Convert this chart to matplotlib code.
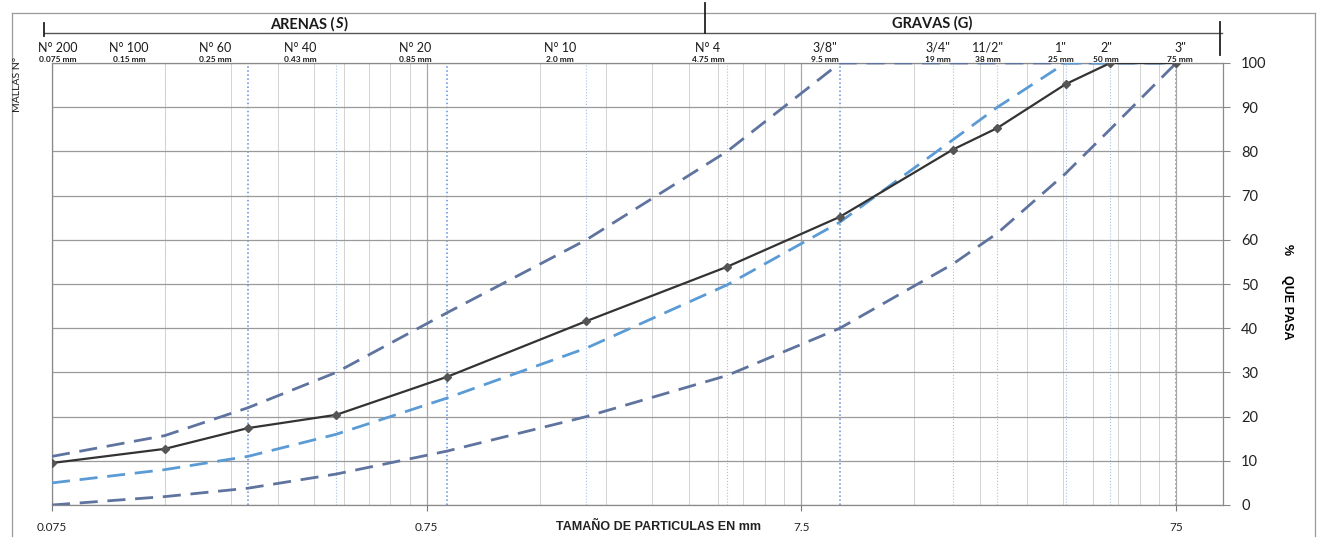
import numpy as np
import matplotlib
matplotlib.use("Agg")
import matplotlib.pyplot as plt
from matplotlib.lines import Line2D
from matplotlib.ticker import FixedLocator, NullFormatter

# --- data: sieve openings (mm) and % passing ---
sizes = [0.075, 0.15, 0.25, 0.43, 0.85, 2.0, 4.75, 9.5, 19, 25, 38, 50, 75]
muestra = [9.5, 12.7, 17.4, 20.4, 29.0, 41.6, 53.9, 65.2, 80.4, 85.3, 95.2, 100, 100]
lim_sup = [11, 15.7, 22, 30, 43.5, 60, 80, 100, 100, 100, 100, 100, 100]
lim_med = [5, 8, 11, 16, 24.2, 35.5, 49.8, 64, 82.6, 90, 100, 100, 100]
lim_inf = [0, 1.9, 3.8, 7, 12.2, 20, 29.3, 40, 54.5, 61.5, 75, 85, 100]

# header labels (sieve names and openings)
mallas = ["N° 200", "N° 100", "N° 60", "N° 40", "N° 20", "N° 10", "N° 4",
          '3/8"', '3/4"', '11/2"', '1"', '2"', '3"']
aberturas = ["0.075 mm", "0.15 mm", "0.25 mm", "0.43 mm", "0.85 mm", "2.0 mm",
             "4.75 mm", "9.5 mm", "19 mm", "38 mm", "25 mm", "50 mm", "75 mm"]
header_px = [58, 129, 215, 300, 415, 560, 708, 825, 938, 988, 1061, 1106, 1180]

x_ticks = [0.075, 0.75, 7.5, 75]
x_ticklabels = ["0.075", "0.75", "7.5", "75"]
y_ticks = list(range(0, 101, 10))

W, H = 1323, 539
fig = plt.figure(figsize=(W / 100, H / 100), dpi=100)
ax = fig.add_axes([52 / W, 1 - 505 / H, (1223 - 52) / W, (505 - 63) / H])

ax.set_xscale("log")
ax.set_xlim(0.075, 100)
ax.set_ylim(0, 100)

# grid: minor lines at 2..9 x 0.075 x 10^n, major at decades of 0.075
minor = [m * 0.075 * 10 ** d for d in range(4) for m in range(2, 10)]
minor = [v for v in minor if v < 100]
ax.xaxis.set_major_locator(FixedLocator(x_ticks))
ax.xaxis.set_minor_locator(FixedLocator(minor))
ax.xaxis.set_minor_formatter(NullFormatter())
ax.set_xticklabels(x_ticklabels, fontsize=8.5, family="Lato", color="#222222")
ax.tick_params(axis="x", which="major", length=4, color="#777777", pad=8)
ax.tick_params(axis="x", which="minor", length=0)
ax.grid(True, which="major", axis="x", color="#a8a8a8", lw=0.9)
ax.grid(True, which="minor", axis="x", color="#d2d2d2", lw=0.7)

ax.yaxis.tick_right()
ax.set_yticks(y_ticks)
ax.set_yticklabels([str(v) for v in y_ticks], fontsize=10.5, family="Lato",
                   color="#222222")
ax.tick_params(axis="y", length=5, color="#888888", pad=8)
ax.grid(True, which="major", axis="y", color="#9a9a9a", lw=0.9)

for s in ax.spines.values():
    s.set_color("#8a8a8a")
    s.set_linewidth(0.9)

# dotted sieve lines
for v in sizes:
    strong = v in (0.25, 0.85, 9.5, 75)
    ax.axvline(v, color="#5b8fd6" if strong else "#a9c0e0", ls=":",
               lw=1.1 if strong else 0.8, zorder=1)

ax.plot(sizes, lim_sup, color="#5f739f", lw=2.0, dashes=(6.5, 3.5), zorder=3)
ax.plot(sizes, lim_inf, color="#5f739f", lw=2.0, dashes=(6.5, 3.5), zorder=3)
ax.plot(sizes, lim_med, color="#5b9bd5", lw=2.0, dashes=(6.5, 3.5), zorder=3)
ax.plot(sizes, muestra, color="#333333", lw=1.6, marker="D", ms=4.5,
        mfc="#555555", mec="#555555", zorder=4)

# header labels
for name, ab, px in zip(mallas, aberturas, header_px):
    fig.text(px / W, 1 - 48 / H, name, ha="center", va="center",
             fontsize=9, family="Lato", color="#1a1a1a")
    fig.text(px / W, 1 - 60 / H, ab, ha="center", va="center",
             fontsize=6, family="Lato", weight="bold", color="#1a1a1a")

fig.text(335 / W, 1 - 24 / H, "ARENAS (", ha="right", va="center",
         fontsize=10.5, family="Lato", weight="bold", color="#1a1a1a")
fig.text(335 / W, 1 - 24 / H, "S", ha="left", va="center",
         fontsize=10.5, family="Lato", weight="bold", style="italic", color="#1a1a1a")
fig.text(344 / W, 1 - 24 / H, ")", ha="left", va="center",
         fontsize=10.5, family="Lato", weight="bold", color="#1a1a1a")
fig.text(932 / W, 1 - 23 / H, "GRAVAS (G)", ha="center", va="center",
         fontsize=10.5, family="Lato", weight="bold", color="#1a1a1a")

fig.text(17 / W, 1 - 84 / H, "MALLAS N°", rotation=90, ha="center", va="center",
         fontsize=7.5, family="Lato", color="#1a1a1a")
fig.text(1287 / W, 1 - 250 / H, "%", rotation=270, ha="center", va="center",
         fontsize=9, family="Liberation Sans", weight="bold")
fig.text(1287 / W, 1 - 307 / H, "QUE PASA", rotation=270, ha="center", va="center",
         fontsize=9, family="Liberation Sans", weight="bold")
fig.text(659 / W, 1 - 527 / H, "TAMAÑO DE PARTICULAS EN mm", ha="center", va="center",
         fontsize=9, family="Liberation Sans", weight="bold", color="#222222")


def fline(x0, y0, x1, y1, lw=0.9, color="#555555"):
    fig.add_artist(Line2D([x0 / W, x1 / W], [1 - y0 / H, 1 - y1 / H],
                          transform=fig.transFigure, lw=lw, color=color))


# outer frame and header lines
fline(12, 13, 1315, 13, color="#9a9a9a")
fline(12, 13, 12, 536, color="#9a9a9a")
fline(1315, 13, 1315, 536, color="#9a9a9a")
fline(44, 33, 1222, 33, lw=1.0, color="#555555")
fline(44, 23, 44, 36, lw=1.3, color="#222222")
fline(705, 3, 705, 33, lw=1.3, color="#222222")
fline(1220, 22, 1220, 55, lw=1.3, color="#222222")

plt.savefig("out.png", dpi=100)
